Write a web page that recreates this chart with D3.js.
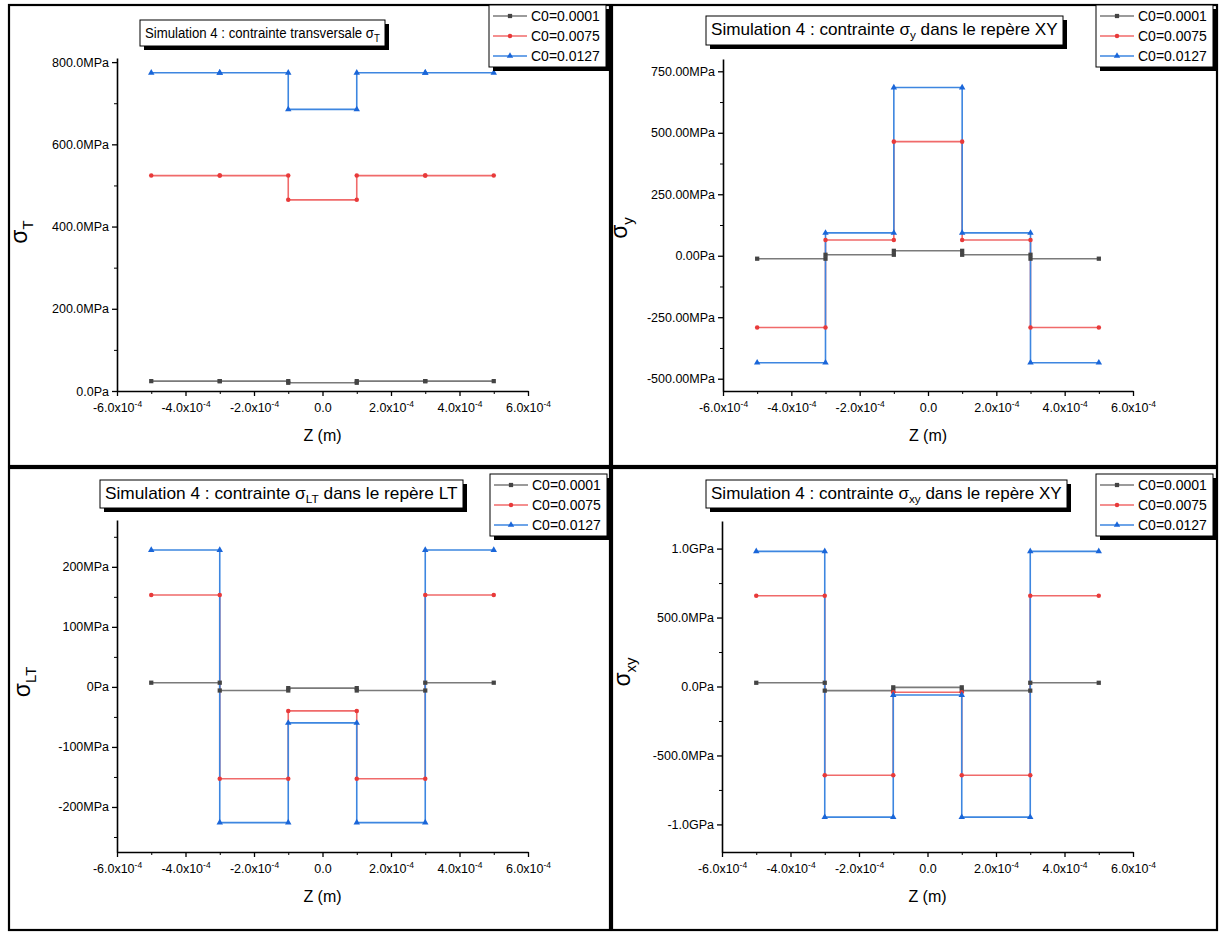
<!DOCTYPE html>
<html>
<head>
<meta charset="utf-8">
<script src="https://cdn.jsdelivr.net/npm/d3@7"></script>
<style>
  body { margin: 0; background: #fff; }
  svg { display: block; }
  text { font-family: "Liberation Sans", Arial, Helvetica, sans-serif; fill: #000; }
</style>
</head>
<body>
<svg id="chart" width="1219" height="932"></svg>
<script>
// Through-thickness positions (m): each ply boundary appears twice to draw the step.
const zPositions = [-5e-4, -3e-4, -3e-4, -1e-4, -1e-4, 1e-4, 1e-4, 3e-4, 3e-4, 5e-4];
const seriesNames = ["C0=0.0001", "C0=0.0075", "C0=0.0127"];
const xTicks = [-6e-4, -4e-4, -2e-4, 0, 2e-4, 4e-4, 6e-4];
const xMinorTicks = [-5e-4, -3e-4, -1e-4, 1e-4, 3e-4, 5e-4];

// Transverse stress sigma_T (MPa)
const sigmaT_c1 = [24, 24, 24, 24, 20, 20, 24, 24, 24, 24];
const sigmaT_c2 = [524, 524, 524, 524, 465, 465, 524, 524, 524, 524];
const sigmaT_c3 = [774, 774, 774, 774, 685, 685, 774, 774, 774, 774];
const sigmaTTicks = [0, 200, 400, 600, 800];
const sigmaTTickLabels = ["0.0Pa", "200.0MPa", "400.0MPa", "600.0MPa", "800.0MPa"];

// sigma_y in the XY frame (MPa)
const sigmaY_c1 = [-12, -12, 4, 4, 20, 20, 4, 4, -12, -12];
const sigmaY_c2 = [-292, -292, 64, 64, 464, 464, 64, 64, -292, -292];
const sigmaY_c3 = [-435, -435, 93, 93, 684, 684, 93, 93, -435, -435];
const sigmaYTicks = [-500, -250, 0, 250, 500, 750];
const sigmaYTickLabels = ["-500.00MPa", "-250.00MPa", "0.00Pa", "250.00MPa", "500.00MPa", "750.00MPa"];

// sigma_LT in the LT frame (MPa)
const sigmaLT_c1 = [7, 7, -6, -6, -2, -2, -6, -6, 7, 7];
const sigmaLT_c2 = [153, 153, -153, -153, -40, -40, -153, -153, 153, 153];
const sigmaLT_c3 = [228, 228, -226, -226, -60, -60, -226, -226, 228, 228];
const sigmaLTTicks = [-200, -100, 0, 100, 200];
const sigmaLTTickLabels = ["-200MPa", "-100MPa", "0Pa", "100MPa", "200MPa"];

// sigma_xy in the XY frame (MPa)
const sigmaXY_c1 = [27, 27, -30, -30, -6, -6, -30, -30, 27, 27];
const sigmaXY_c2 = [658, 658, -644, -644, -42, -42, -644, -644, 658, 658];
const sigmaXY_c3 = [980, 980, -947, -947, -62, -62, -947, -947, 980, 980];
const sigmaXYTicks = [-1000, -500, 0, 500, 1000];
const sigmaXYTickLabels = ["-1.0GPa", "-500.0MPa", "0.0Pa", "500.0MPa", "1.0GPa"];

const xTickLabels = [["-6.0x10", "-4"], ["-4.0x10", "-4"], ["-2.0x10", "-4"], ["0.0", null],
                     ["2.0x10", "-4"], ["4.0x10", "-4"], ["6.0x10", "-4"]];

const styles = [
  { line: "#7a7a7a", mark: "#444444", symbol: d3.symbolSquare, size: 18 },
  { line: "#f06a6a", mark: "#e83a3a", symbol: d3.symbolCircle, size: 16 },
  { line: "#3d86e0", mark: "#1a66d9", symbol: d3.symbolTriangle, size: 18 }
];

const svg = d3.select("#chart");

function drawPanel(p) {
  const g = svg.append("g");

  // panel frame
  g.append("rect")
    .attr("x", p.frame[0]).attr("y", p.frame[1])
    .attr("width", p.frame[2]).attr("height", p.frame[3])
    .attr("fill", "#fff").attr("stroke", "#000").attr("stroke-width", 2.2);

  const x = d3.scaleLinear().domain([-6e-4, 6e-4]).range([p.left, p.right]);
  const y = d3.scaleLinear().domain(p.yDomain).range([p.bottom, p.top]);

  // minor ticks
  g.append("g").attr("transform", `translate(0,${p.bottom})`)
    .call(d3.axisBottom(x).tickValues(xMinorTicks).tickSize(3).tickFormat(""))
    .call(s => s.select(".domain").remove());
  g.append("g").attr("transform", `translate(${p.left},0)`)
    .call(d3.axisLeft(y).tickValues(p.yMinor).tickSize(3).tickFormat(""))
    .call(s => s.select(".domain").remove());

  // x axis with superscripted labels
  const xa = g.append("g").attr("transform", `translate(0,${p.bottom})`)
    .call(d3.axisBottom(x).tickValues(xTicks).tickSize(5).tickSizeOuter(0).tickFormat(""));
  xa.selectAll(".tick").each(function(d, i) {
    const t = d3.select(this).append("text")
      .attr("y", 21).attr("text-anchor", "middle")
      .style("font-size", "12.5px");
    t.append("tspan").text(xTickLabels[i][0]);
    if (xTickLabels[i][1]) {
      t.append("tspan").attr("dy", -5).style("font-size", "8.5px").text(xTickLabels[i][1]);
    }
  });

  // y axis
  const ya = g.append("g").attr("transform", `translate(${p.left},0)`)
    .call(d3.axisLeft(y).tickValues(p.yTicks).tickSize(5).tickSizeOuter(0)
      .tickFormat((d, i) => p.yTickLabels[i]));
  ya.selectAll(".tick text").attr("x", -8).style("font-size", "12.5px")
    .style("font-family", '"Liberation Sans", Arial, sans-serif').attr("fill", "#000");

  [xa, ya].forEach(a => {
    a.select(".domain").attr("stroke-width", 1.6);
    a.selectAll(".tick line").attr("stroke-width", 1.3);
  });
  g.selectAll(".tick line").attr("stroke", "#000");

  // axis titles
  g.append("text").attr("x", (p.left + p.right) / 2).attr("y", p.bottom + 50)
    .attr("text-anchor", "middle").style("font-size", "16px").text("Z (m)");

  const yl = g.append("text")
    .attr("transform", `translate(${p.yLabelPos[0]},${p.yLabelPos[1]}) rotate(-90)`)
    .attr("text-anchor", "middle");
  yl.append("tspan").style("font-size", "23px").text("σ");
  yl.append("tspan").attr("dy", 6).style("font-size", "15px").text(p.ySub);

  // series: lines then markers
  const line = d3.line().x((d, i) => x(zPositions[i])).y(d => y(d));
  p.series.forEach((vals, k) => {
    g.append("path").datum(vals).attr("d", line)
      .attr("fill", "none").attr("stroke", styles[k].line).attr("stroke-width", 1.6);
  });
  p.series.forEach((vals, k) => {
    g.selectAll(null).data(vals).enter().append("path")
      .attr("transform", (d, i) => `translate(${x(zPositions[i])},${y(d)})`)
      .attr("d", d3.symbol().type(styles[k].symbol).size(styles[k].size))
      .attr("fill", styles[k].mark);
  });

  // title box with drop shadow; text is fitted to the box width
  const [tx, ty, tbw, tbh] = p.titleBox;
  const tg = g.append("g");
  tg.append("rect").attr("x", tx + 4).attr("y", ty + 4)
    .attr("width", tbw).attr("height", tbh).attr("fill", "#000");
  tg.append("rect").attr("x", tx).attr("y", ty)
    .attr("width", tbw).attr("height", tbh).attr("fill", "#fff")
    .attr("stroke", "#000").attr("stroke-width", 1);
  const tt = tg.append("text").attr("x", tx + 5).attr("y", ty + tbh / 2 + 5)
    .style("font-size", p.titleSize + "px");
  tt.append("tspan").text(p.titleText);
  tt.append("tspan").attr("dy", 4).style("font-size", Math.round(p.titleSize * 0.7) + "px").text(p.titleSub);
  if (p.titleTail) tt.append("tspan").attr("dy", -4).text(p.titleTail);
  const natural = tt.node().getComputedTextLength();
  const k = (tbw - 10) / natural;
  tt.attr("transform", `translate(${tx + 5},0) scale(${k},1) translate(${-(tx + 5)},0)`);

  // legend with drop shadow
  const [lx, ly] = p.legendPos;
  const lw = 117, lh = 62;
  g.append("rect").attr("x", lx + 4).attr("y", ly + 4).attr("width", lw).attr("height", lh).attr("fill", "#000");
  g.append("rect").attr("x", lx).attr("y", ly).attr("width", lw).attr("height", lh)
    .attr("fill", "#fff").attr("stroke", "#000").attr("stroke-width", 1);
  seriesNames.forEach((name, k) => {
    const ry = ly + 11 + k * 20;
    g.append("line").attr("x1", lx + 4).attr("x2", lx + 38).attr("y1", ry).attr("y2", ry)
      .attr("stroke", styles[k].line).attr("stroke-width", 1.6);
    g.append("path").attr("transform", `translate(${lx + 21},${ry})`)
      .attr("d", d3.symbol().type(styles[k].symbol).size(styles[k].size))
      .attr("fill", styles[k].mark);
    g.append("text").attr("x", lx + 42).attr("y", ry + 5).style("font-size", "14px").text(name);
  });
}

drawPanel({
  frame: [9, 5, 601, 461],
  left: 117, right: 528, top: 58, bottom: 391,
  yDomain: [0, 810], yTicks: sigmaTTicks, yTickLabels: sigmaTTickLabels, yMinor: [100, 300, 500, 700],
  series: [sigmaT_c1, sigmaT_c2, sigmaT_c3],
  ySub: "T", yLabelPos: [27, 232],
  titleBox: [140, 20, 245, 26], titleSize: 15,
  titleText: "Simulation 4 : contrainte transversale σ", titleSub: "T", titleTail: "",
  legendPos: [489, 5]
});
drawPanel({
  frame: [612, 5, 605, 461],
  left: 723, right: 1133, top: 59, bottom: 391,
  yDomain: [-550, 800], yTicks: sigmaYTicks, yTickLabels: sigmaYTickLabels, yMinor: [-375, -125, 125, 375, 625],
  series: [sigmaY_c1, sigmaY_c2, sigmaY_c3],
  ySub: "y", yLabelPos: [627, 228],
  titleBox: [706, 16, 357, 29], titleSize: 16,
  titleText: "Simulation 4 : contrainte  σ", titleSub: "y", titleTail: " dans le repère XY",
  legendPos: [1096, 5]
});
drawPanel({
  frame: [9, 468, 601, 462],
  left: 117, right: 528, top: 520, bottom: 852,
  yDomain: [-275, 278], yTicks: sigmaLTTicks, yTickLabels: sigmaLTTickLabels, yMinor: [-250, -150, -50, 50, 150, 250],
  series: [sigmaLT_c1, sigmaLT_c2, sigmaLT_c3],
  ySub: "LT", yLabelPos: [30, 682],
  titleBox: [100, 480, 363, 28], titleSize: 16,
  titleText: "Simulation 4 : contrainte  σ", titleSub: "LT", titleTail: " dans le repère LT",
  legendPos: [490, 474]
});
drawPanel({
  frame: [612, 468, 605, 462],
  left: 722, right: 1133, top: 521, bottom: 852,
  yDomain: [-1200, 1200], yTicks: sigmaXYTicks, yTickLabels: sigmaXYTickLabels, yMinor: [-750, -250, 250, 750],
  series: [sigmaXY_c1, sigmaXY_c2, sigmaXY_c3],
  ySub: "xy", yLabelPos: [630, 672],
  titleBox: [706, 480, 361, 28], titleSize: 16,
  titleText: "Simulation 4 : contrainte  σ", titleSub: "xy", titleTail: " dans le repère XY",
  legendPos: [1096, 474]
});
</script>
</body>
</html>
